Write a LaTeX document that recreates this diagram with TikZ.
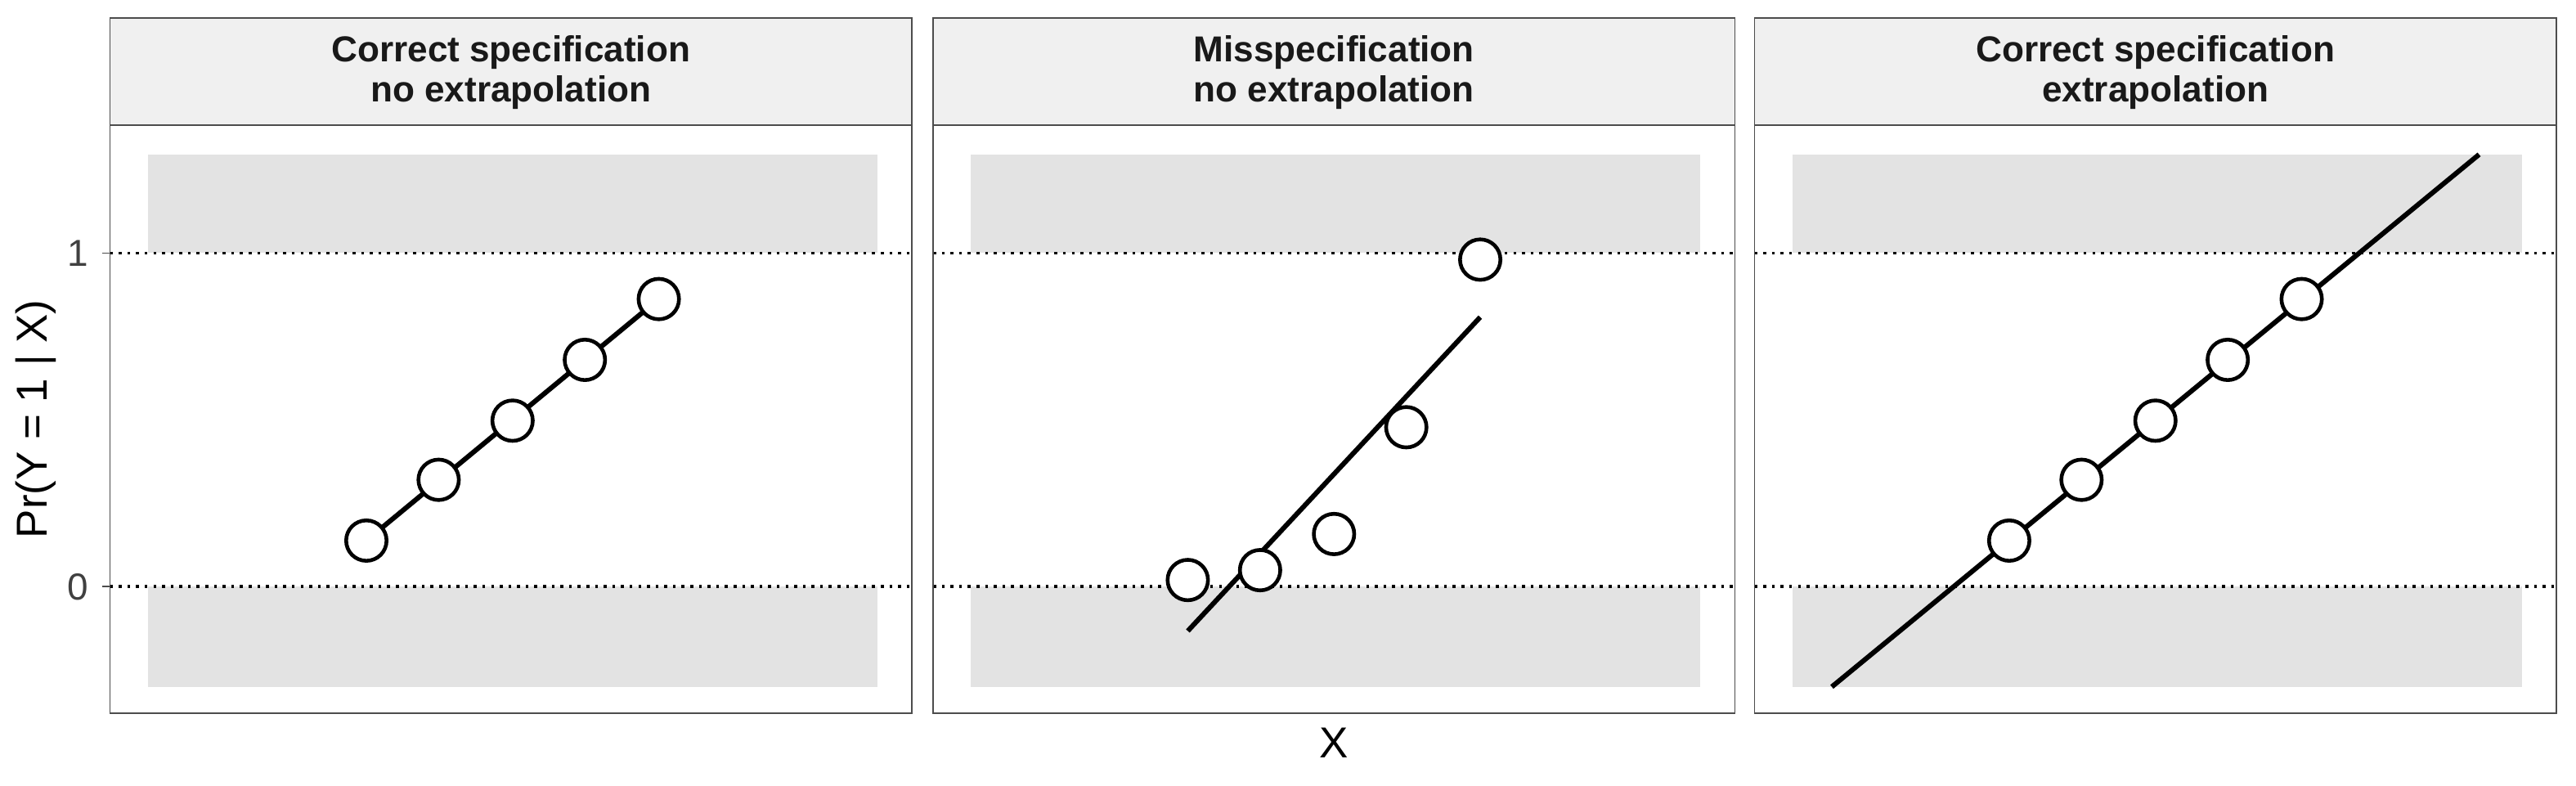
\documentclass[tikz,border=0pt]{standalone}
\usepackage{fontspec}
\setmainfont{Liberation Sans}
\usetikzlibrary{calc}
\tikzset{
  panel/.style={draw=black!70,line width=0.5pt},
  strip/.style={draw=black!70,fill=black!6,line width=0.5pt},
  band/.style={fill=black!11,draw=none},
  pt/.style={circle,draw=black,line width=1.3pt,minimum size=14pt,inner sep=0pt,fill=white},
  fit/.style={line width=1.7pt},
  ref/.style={dotted,line width=1pt},
  ttl/.style={font=\fontsize{12.5}{14}\selectfont\bfseries,align=center,text=black!90}
}
\begin{document}
\begin{tikzpicture}[x=0.02cm,y=-0.02cm]
    \useasboundingbox (0,0) rectangle (1568,478);
    % Panels: left edge, title
    \foreach \px/\name/\ttext in {67/pa/{Correct specification\\no extrapolation},
                                  568/pb/{Misspecification\\no extrapolation},
                                  1068/pc/{Correct specification\\extrapolation}} {
      \fill[band] (\px+23,94) rectangle (\px+467,154);
      \fill[band] (\px+23,357) rectangle (\px+467,418);
      \draw[ref] (\px,154) -- (\px+488,154);
      \draw[ref] (\px,357) -- (\px+488,357);
      \draw[panel] (\px,76) rectangle (\px+488,434);
      \draw[strip] (\px,11) rectangle (\px+488,76);
      \node[ttl] (\name) at (\px+244,44) {\ttext};
    }
    % Correct specification, no extrapolation
    \draw[fit] (223,329) -- (401,182);
    \foreach \x/\y [count=\i] in {223/329,267/292,312/256,356/219,401/182}
      \node[pt] (a\i) at (\x,\y) {};
    % Misspecification
    \draw[fit] (723,384) -- (901,193);
    \foreach \x/\y [count=\i] in {723/353,767/347,812/325,856/260,901/158}
      \node[pt] (b\i) at (\x,\y) {};
    % Correct specification, extrapolation
    \draw[fit] (1115,418) -- (1509,94);
    \foreach \x/\y [count=\i] in {1223/329,1267/292,1312/256,1356/219,1401/182}
      \node[pt] (c\i) at (\x,\y) {};
    % Axes
    \foreach \y/\lab in {154/1,357/0} {
      \draw[line width=0.5pt,black!70] (62,\y) -- (67,\y);
      \node[anchor=east,font=\fontsize{13}{15}\selectfont,text=black!75] (tick\lab) at (60,\y) {\lab};
    }
    \node[rotate=90,font=\fontsize{15}{17}\selectfont] (ylab) at (22,255) {Pr(Y = 1 | X)};
    \node[font=\fontsize{15}{17}\selectfont] (xlab) at (812,452) {X};
\end{tikzpicture}
\end{document}
